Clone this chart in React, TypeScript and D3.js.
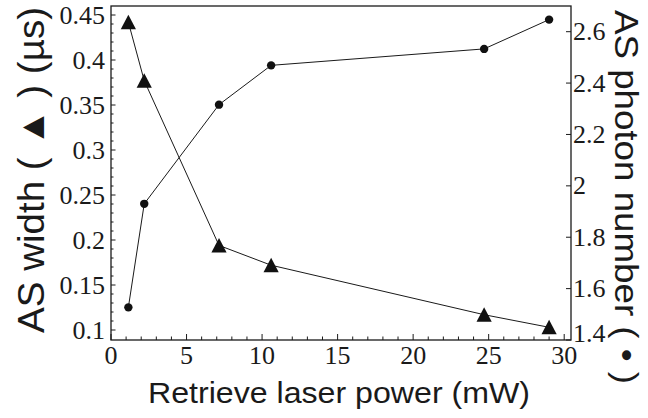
import { useEffect, useRef } from 'react'
import * as d3 from 'd3'

// retrieve laser power (mW)
const powers = [1.15, 2.2, 7.15, 10.6, 24.7, 29]
// AS width (µs), triangles, left axis
const asWidth = [0.442, 0.377, 0.194, 0.172, 0.117, 0.103]
// AS photon number, circles, right axis
const photonNumber = [1.527, 1.93, 2.316, 2.469, 2.533, 2.647]

const xTicks = [0, 5, 10, 15, 20, 25, 30]
const leftTicks = [0.1, 0.15, 0.2, 0.25, 0.3, 0.35, 0.4, 0.45]
const rightTicks = [1.4, 1.6, 1.8, 2, 2.2, 2.4, 2.6]

const W = 648
const H = 418
const SERIF = "'Liberation Serif', 'Times New Roman', Times, 'Nimbus Roman', FreeSerif, 'DejaVu Serif', serif"
const SANS = "'Liberation Sans', Arial, Helvetica, 'DejaVu Sans', sans-serif"
const INK = '#1a1a1a'

export default function App() {
  const svgRef = useRef<SVGSVGElement>(null)

  useEffect(() => {
    const svg = d3.select(svgRef.current)
    svg.selectAll('*').remove()

    const left = 111, right = 571, top = 6, bottom = 340

    const x = d3.scaleLinear().domain([0, 30.45]).range([left, right])
    const yL = d3.scaleLinear().domain([0.0889, 0.46]).range([bottom, top])
    const yR = d3.scaleLinear().domain([1.4, 2.7]).range([bottom, top])

    // frame
    svg.append('rect')
      .attr('x', left).attr('y', top)
      .attr('width', right - left).attr('height', bottom - top)
      .attr('fill', 'none').attr('stroke', INK).attr('stroke-width', 1.3)

    // bottom ticks, pointing in
    const xMinor = d3.range(0, 31, 1)
    svg.selectAll('.xt')
      .data(xMinor)
      .join('line')
      .attr('class', 'xt')
      .attr('x1', d => x(d)).attr('x2', d => x(d))
      .attr('y1', bottom)
      .attr('y2', d => bottom - (d % 5 === 0 ? 6 : 3.5))
      .attr('stroke', INK).attr('stroke-width', 1)

    svg.selectAll('.xl')
      .data(xTicks)
      .join('text')
      .attr('class', 'xl')
      .attr('x', d => x(d))
      .attr('y', 364)
      .attr('text-anchor', 'middle')
      .style('font-family', SERIF)
      .attr('font-size', 26)
      .attr('fill', INK)
      .text(d => d)

    // left ticks
    const lMinor = d3.range(10, 46).map(d => d / 100)
    svg.selectAll('.lt')
      .data(lMinor)
      .join('line')
      .attr('class', 'lt')
      .attr('x1', left)
      .attr('x2', d => left + (Math.round(d * 100) % 5 === 0 ? 4.5 : 2.5))
      .attr('y1', d => yL(d)).attr('y2', d => yL(d))
      .attr('stroke', INK).attr('stroke-width', 1)

    svg.selectAll('.ll')
      .data(leftTicks)
      .join('text')
      .attr('class', 'll')
      .attr('x', 105)
      .attr('y', d => yL(d))
      .attr('dy', '0.33em')
      .attr('text-anchor', 'end')
      .style('font-family', SERIF)
      .attr('font-size', 26)
      .attr('fill', INK)
      .text(d => String(d))

    // right ticks
    svg.selectAll('.rt')
      .data(rightTicks)
      .join('line')
      .attr('class', 'rt')
      .attr('x1', right - 5).attr('x2', right)
      .attr('y1', d => yR(d)).attr('y2', d => yR(d))
      .attr('stroke', INK).attr('stroke-width', 1)

    svg.selectAll('.rl')
      .data(rightTicks)
      .join('text')
      .attr('class', 'rl')
      .attr('x', 573)
      .attr('y', d => Math.min(yR(d), 333))
      .attr('dy', '0.33em')
      .style('font-family', SERIF)
      .attr('font-size', 26)
      .attr('fill', INK)
      .text(d => String(d))

    const pts = powers.map((p, i) => ({ p, w: asWidth[i], n: photonNumber[i] }))

    // triangles series
    svg.append('path')
      .datum(pts)
      .attr('fill', 'none').attr('stroke', INK).attr('stroke-width', 1)
      .attr('d', d3.line<any>().x(d => x(d.p)).y(d => yL(d.w)))

    svg.selectAll('.tri')
      .data(pts)
      .join('path')
      .attr('class', 'tri')
      .attr('transform', d => `translate(${x(d.p)},${yL(d.w)})`)
      .attr('d', 'M0,-7.5L7.6,7L-7.6,7Z')
      .attr('fill', '#111')

    // circles series
    svg.append('path')
      .datum(pts)
      .attr('fill', 'none').attr('stroke', INK).attr('stroke-width', 1)
      .attr('d', d3.line<any>().x(d => x(d.p)).y(d => yR(d.n)))

    svg.selectAll('.dot')
      .data(pts)
      .join('circle')
      .attr('class', 'dot')
      .attr('cx', d => x(d.p))
      .attr('cy', d => yR(d.n))
      .attr('r', 4.2)
      .attr('fill', '#111')

    // axis titles
    svg.append('text')
      .attr('x', 339).attr('y', 403)
      .attr('text-anchor', 'middle')
      .style('font-family', SANS)
      .attr('font-size', 30)
      .attr('textLength', 382)
      .attr('lengthAdjust', 'spacingAndGlyphs')
      .attr('fill', INK)
      .text('Retrieve laser power (mW)')

    svg.append('text')
      .attr('transform', 'translate(43.5,170) rotate(-90)')
      .attr('text-anchor', 'middle')
      .style('font-family', SANS)
      .attr('font-size', 36)
      .attr('textLength', 326)
      .attr('lengthAdjust', 'spacingAndGlyphs')
      .attr('fill', INK)
      .text('AS width ( ▲ ) (µs)')

    svg.append('text')
      .attr('transform', 'translate(615,197) rotate(90)')
      .attr('text-anchor', 'middle')
      .style('font-family', SANS)
      .attr('font-size', 34)
      .attr('textLength', 374)
      .attr('lengthAdjust', 'spacingAndGlyphs')
      .attr('fill', INK)
      .text('AS photon number ( • )')
  }, [])

  return (
    <svg
      ref={svgRef}
      width={W}
      height={H}
      style={{ position: 'absolute', left: 0, top: 0, background: '#fff' }}
    />
  )
}
